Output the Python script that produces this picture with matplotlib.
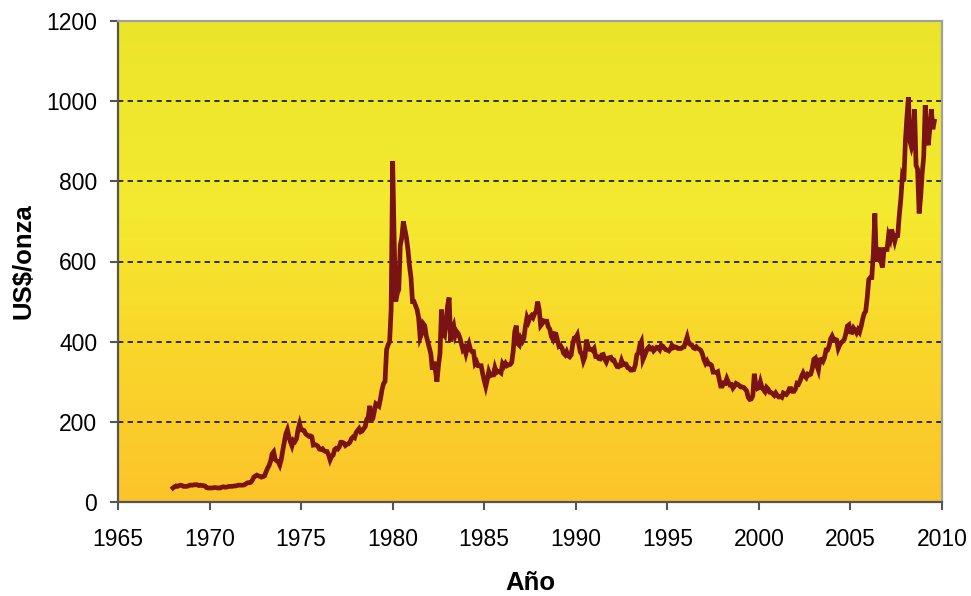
import numpy as np
import matplotlib
matplotlib.use("Agg")
import matplotlib.pyplot as plt
from matplotlib.colors import LinearSegmentedColormap

# Monthly gold price (US$/onza), starting January 1968
start_year = 1968
p1968_1979 = [
    35, 38, 40, 39, 41, 42, 41, 39, 39, 39, 40, 42,
    42, 42, 43, 43, 43, 41, 42, 41, 41, 40, 36, 35,
    35, 35, 35, 36, 36, 35, 35, 35, 37, 38, 37, 37,
    38, 39, 39, 39, 40, 40, 41, 42, 42, 42, 42, 43,
    46, 48, 48, 49, 54, 62, 65, 67, 65, 64, 62, 63,
    65, 75, 84, 91, 102, 120, 125, 106, 103, 100, 92, 106,
    129, 150, 170, 180, 163, 150, 140, 154, 151, 158, 181, 195,
    180, 180, 178, 170, 167, 164, 165, 163, 142, 143, 142, 139,
    132, 131, 133, 128, 126, 126, 118, 105, 114, 117, 131, 134,
    132, 137, 149, 149, 147, 141, 144, 145, 149, 158, 162, 160,
    173, 178, 183, 175, 177, 183, 188, 206, 212, 240, 206, 208,
    227, 245, 242, 239, 257, 280, 295, 301, 380, 392, 400, 480,
]
p1980_1989 = [
    850, 650, 500, 520, 530, 640, 660, 700, 680, 660, 630, 590,
    560, 500, 500, 490, 480, 460, 410, 420, 445, 440, 415, 400,
    385, 370, 330, 350, 330, 300, 340, 370, 480, 420, 415, 445,
    490, 510, 400, 430, 440, 415, 425, 420, 410, 395, 380, 385,
    370, 385, 395, 380, 375, 375, 345, 350, 340, 340, 340, 320,
    303, 288, 305, 325, 315, 317, 317, 335, 323, 326, 325, 322,
    345, 339, 346, 340, 342, 343, 348, 376, 425, 440, 395, 391,
    408, 401, 409, 438, 460, 450, 460, 465, 460, 470, 475, 500,
    480, 440, 445, 452, 451, 451, 437, 431, 413, 406, 420, 419,
    404, 388, 390, 384, 371, 367, 375, 365, 362, 367, 394, 409,
]
p1990_1999 = [
    410, 417, 393, 374, 369, 352, 362, 405, 389, 381, 381, 378,
    383, 363, 363, 358, 357, 367, 368, 356, 349, 359, 360, 361,
    354, 354, 345, 338, 337, 340, 353, 343, 345, 344, 335, 334,
    329, 329, 330, 342, 367, 372, 392, 400, 355, 364, 374, 383,
    387, 382, 384, 377, 381, 386, 385, 380, 391, 389, 384, 380,
    379, 377, 382, 391, 385, 387, 386, 383, 383, 383, 386, 387,
    400, 412, 396, 393, 392, 385, 383, 387, 383, 381, 378, 369,
    355, 346, 352, 344, 344, 341, 324, 324, 323, 325, 306, 289,
    289, 297, 296, 308, 299, 292, 293, 284, 289, 296, 294, 291,
    287, 287, 286, 282, 277, 261, 256, 257, 265, 320, 293, 283,
]
p2000_2009 = [
    285, 300, 286, 280, 275, 286, 282, 274, 273, 270, 266, 272,
    266, 262, 263, 261, 272, 270, 268, 273, 283, 283, 276, 276,
    282, 296, 294, 302, 314, 322, 314, 310, 319, 317, 319, 333,
    356, 359, 340, 329, 355, 356, 351, 360, 379, 379, 389, 407,
    414, 405, 406, 404, 383, 392, 398, 401, 406, 420, 439, 442,
    424, 423, 434, 429, 422, 430, 424, 438, 456, 470, 476, 510,
    555, 560, 560, 620, 720, 600, 630, 630, 600, 585, 630, 630,
    630, 665, 655, 680, 665, 650, 665, 665, 715, 755, 810, 800,
    900, 960, 1010, 900, 885, 900, 980, 840, 830, 720, 760, 820,
    860, 990, 920, 890, 930, 980, 930, 950,
]

x_ticks = [1965, 1970, 1975, 1980, 1985, 1990, 1995, 2000, 2005, 2010]
y_ticks = [0, 200, 400, 600, 800, 1000, 1200]
grid_levels = [200, 400, 600, 800, 1000]

prices = np.array(p1968_1979 + p1980_1989 + p1990_1999 + p2000_2009, dtype=float)
dates = start_year + np.arange(len(prices)) / 12.0

plt.rcParams['font.family'] = ['Liberation Sans', 'DejaVu Sans']

fig = plt.figure(figsize=(9.71, 5.96), dpi=100)
ax = fig.add_axes([118/971, 1 - 502/596, (942-118)/971, (502-21)/596])

# gradient background
cmap = LinearSegmentedColormap.from_list(
    "bg", [(0.0, "#FCC42A"), (0.35, "#F9D82B"), (0.6, "#F4EA2F"), (1.0, "#EBE529")])
grad = np.linspace(0, 1, 256).reshape(-1, 1)
ax.imshow(grad, cmap=cmap, origin='lower', aspect='auto',
          extent=[x_ticks[0], x_ticks[-1], y_ticks[0], y_ticks[-1]], zorder=0)

for g in grid_levels:
    ax.axhline(g, color='black', lw=1.1, ls=(0, (3.5, 2.8)), zorder=1)

ax.plot(dates, prices, color='#7A1315', lw=3.4, zorder=3, solid_joinstyle='miter')

ax.set_xlim(x_ticks[0], x_ticks[-1])
ax.set_ylim(y_ticks[0], y_ticks[-1])
ax.set_xticks(x_ticks)
ax.set_yticks(y_ticks)

for s in ['left', 'bottom']:
    ax.spines[s].set_color('#555555')
    ax.spines[s].set_linewidth(1.6)
for s in ['top', 'right']:
    ax.spines[s].set_color('#A0A0A0')
    ax.spines[s].set_linewidth(1.6)

ax.tick_params(axis='both', direction='out', length=6, width=1.5,
               color='#555555', labelsize=16.5, labelcolor='black')
ax.tick_params(axis='y', pad=9)
ax.tick_params(axis='x', pad=13)

fig.text(23/971, 1 - 261/596, 'US$/onza', rotation=90, ha='center', va='center',
         fontsize=18.5, fontweight='bold')
fig.text(530/971, 1 - 583/596, 'Año', ha='center', va='center',
         fontsize=18.5, fontweight='bold')

fig.savefig('out.png', dpi=100)
